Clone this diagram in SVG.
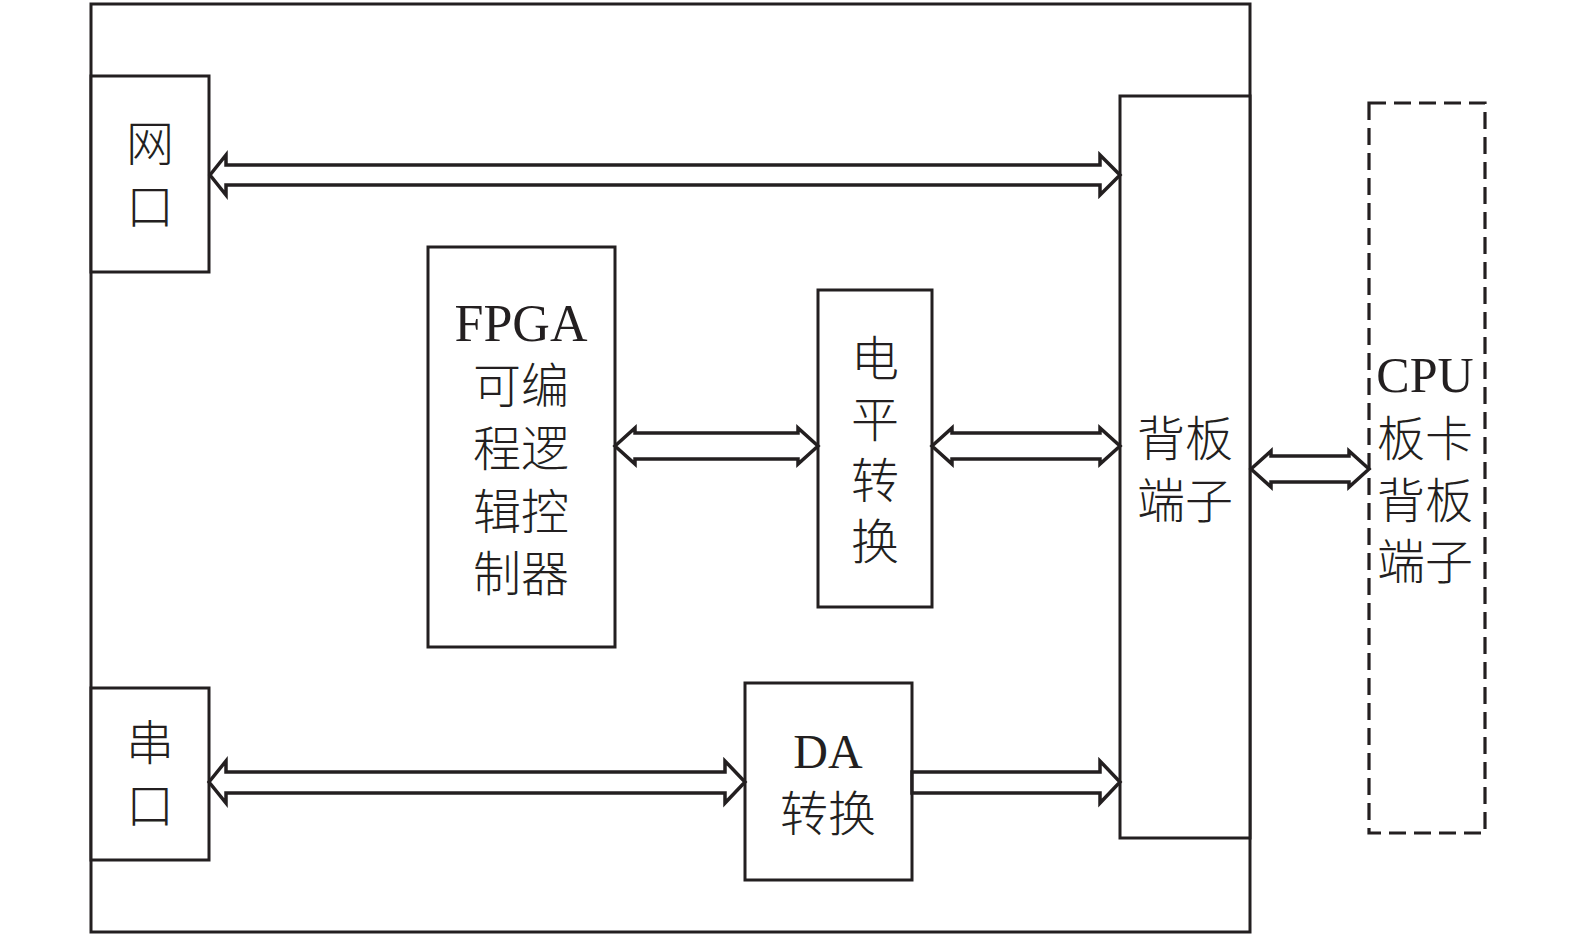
<svg xmlns="http://www.w3.org/2000/svg" width="1575" height="937" viewBox="0 0 1575 937">
<style>
.box{fill:#fff;stroke:#231f20;stroke-width:3}
.dash{fill:none;stroke:#231f20;stroke-width:3.2;stroke-dasharray:17 8}
.arr{fill:#fff;stroke:#231f20;stroke-width:3.5;stroke-linejoin:miter}
.cn{font-family:"Noto Sans CJK SC","Noto Sans CJK JP",sans-serif;font-size:48px;fill:#231f20;text-anchor:middle;font-weight:300}
.en{font-family:"Liberation Serif","Times New Roman",serif;font-size:50px;fill:#231f20;text-anchor:middle}
</style>
<rect width="1575" height="937" fill="#fff"/>
<g id="outer"><rect class="box" x="91" y="4" width="1159" height="928"/></g>
<g id="wangkou"><rect class="box" x="91" y="76" width="118" height="196"/>
<text class="cn" x="150" y="161">网</text><text class="cn" x="150" y="224">口</text></g>
<g id="fpga"><rect class="box" x="428" y="247" width="187" height="400"/>
<text class="en" x="521" y="341" style="font-size:52px">FPGA</text>
<text class="cn" x="521" y="403">可编</text><text class="cn" x="521" y="466">程逻</text>
<text class="cn" x="521" y="529">辑控</text><text class="cn" x="521" y="591">制器</text></g>
<g id="dianping"><rect class="box" x="818" y="290" width="114" height="317"/>
<text class="cn" x="875" y="376">电</text><text class="cn" x="875" y="437">平</text>
<text class="cn" x="875" y="498">转</text><text class="cn" x="875" y="559">换</text></g>
<g id="beiban"><rect class="box" x="1120" y="96" width="130" height="742"/>
<text class="cn" x="1185" y="456">背板</text><text class="cn" x="1185" y="518">端子</text></g>
<g id="cpu"><rect class="dash" x="1369" y="103" width="116" height="730"/>
<text class="en" x="1425" y="392">CPU</text>
<text class="cn" x="1425" y="456">板卡</text><text class="cn" x="1425" y="518">背板</text><text class="cn" x="1425" y="579">端子</text></g>
<g id="chuankou"><rect class="box" x="91" y="688" width="118" height="172"/>
<text class="cn" x="150" y="760">串</text><text class="cn" x="150" y="823">口</text></g>
<g id="da"><rect class="box" x="745" y="683" width="167" height="197"/>
<text class="en" x="828" y="768" style="font-size:48px">DA</text>
<text class="cn" x="828" y="831">转换</text></g>
<g id="connectors">
<polygon class="arr" points="210,175 226,155 226,165 1100,165 1100,155 1120,175 1100,195 1100,185 226,185 226,195"/>
<polygon class="arr" points="615,446 635,428 635,433 798,433 798,428 818,446 798,464 798,459 635,459 635,464"/>
<polygon class="arr" points="932,446 952,428 952,433 1100,433 1100,428 1120,446 1100,464 1100,459 952,459 952,464"/>
<polygon class="arr" points="1251,469 1271,451 1271,456 1349,456 1349,451 1369,469 1349,487 1349,482 1271,482 1271,487"/>
<polygon class="arr" points="209,782 226,761 226,772 725,772 725,761 745,782 725,803 725,793 226,793 226,803"/>
<polygon class="arr" points="912,772 1100,772 1100,761 1120,782 1100,803 1100,793 912,793"/>
</g>
</svg>
